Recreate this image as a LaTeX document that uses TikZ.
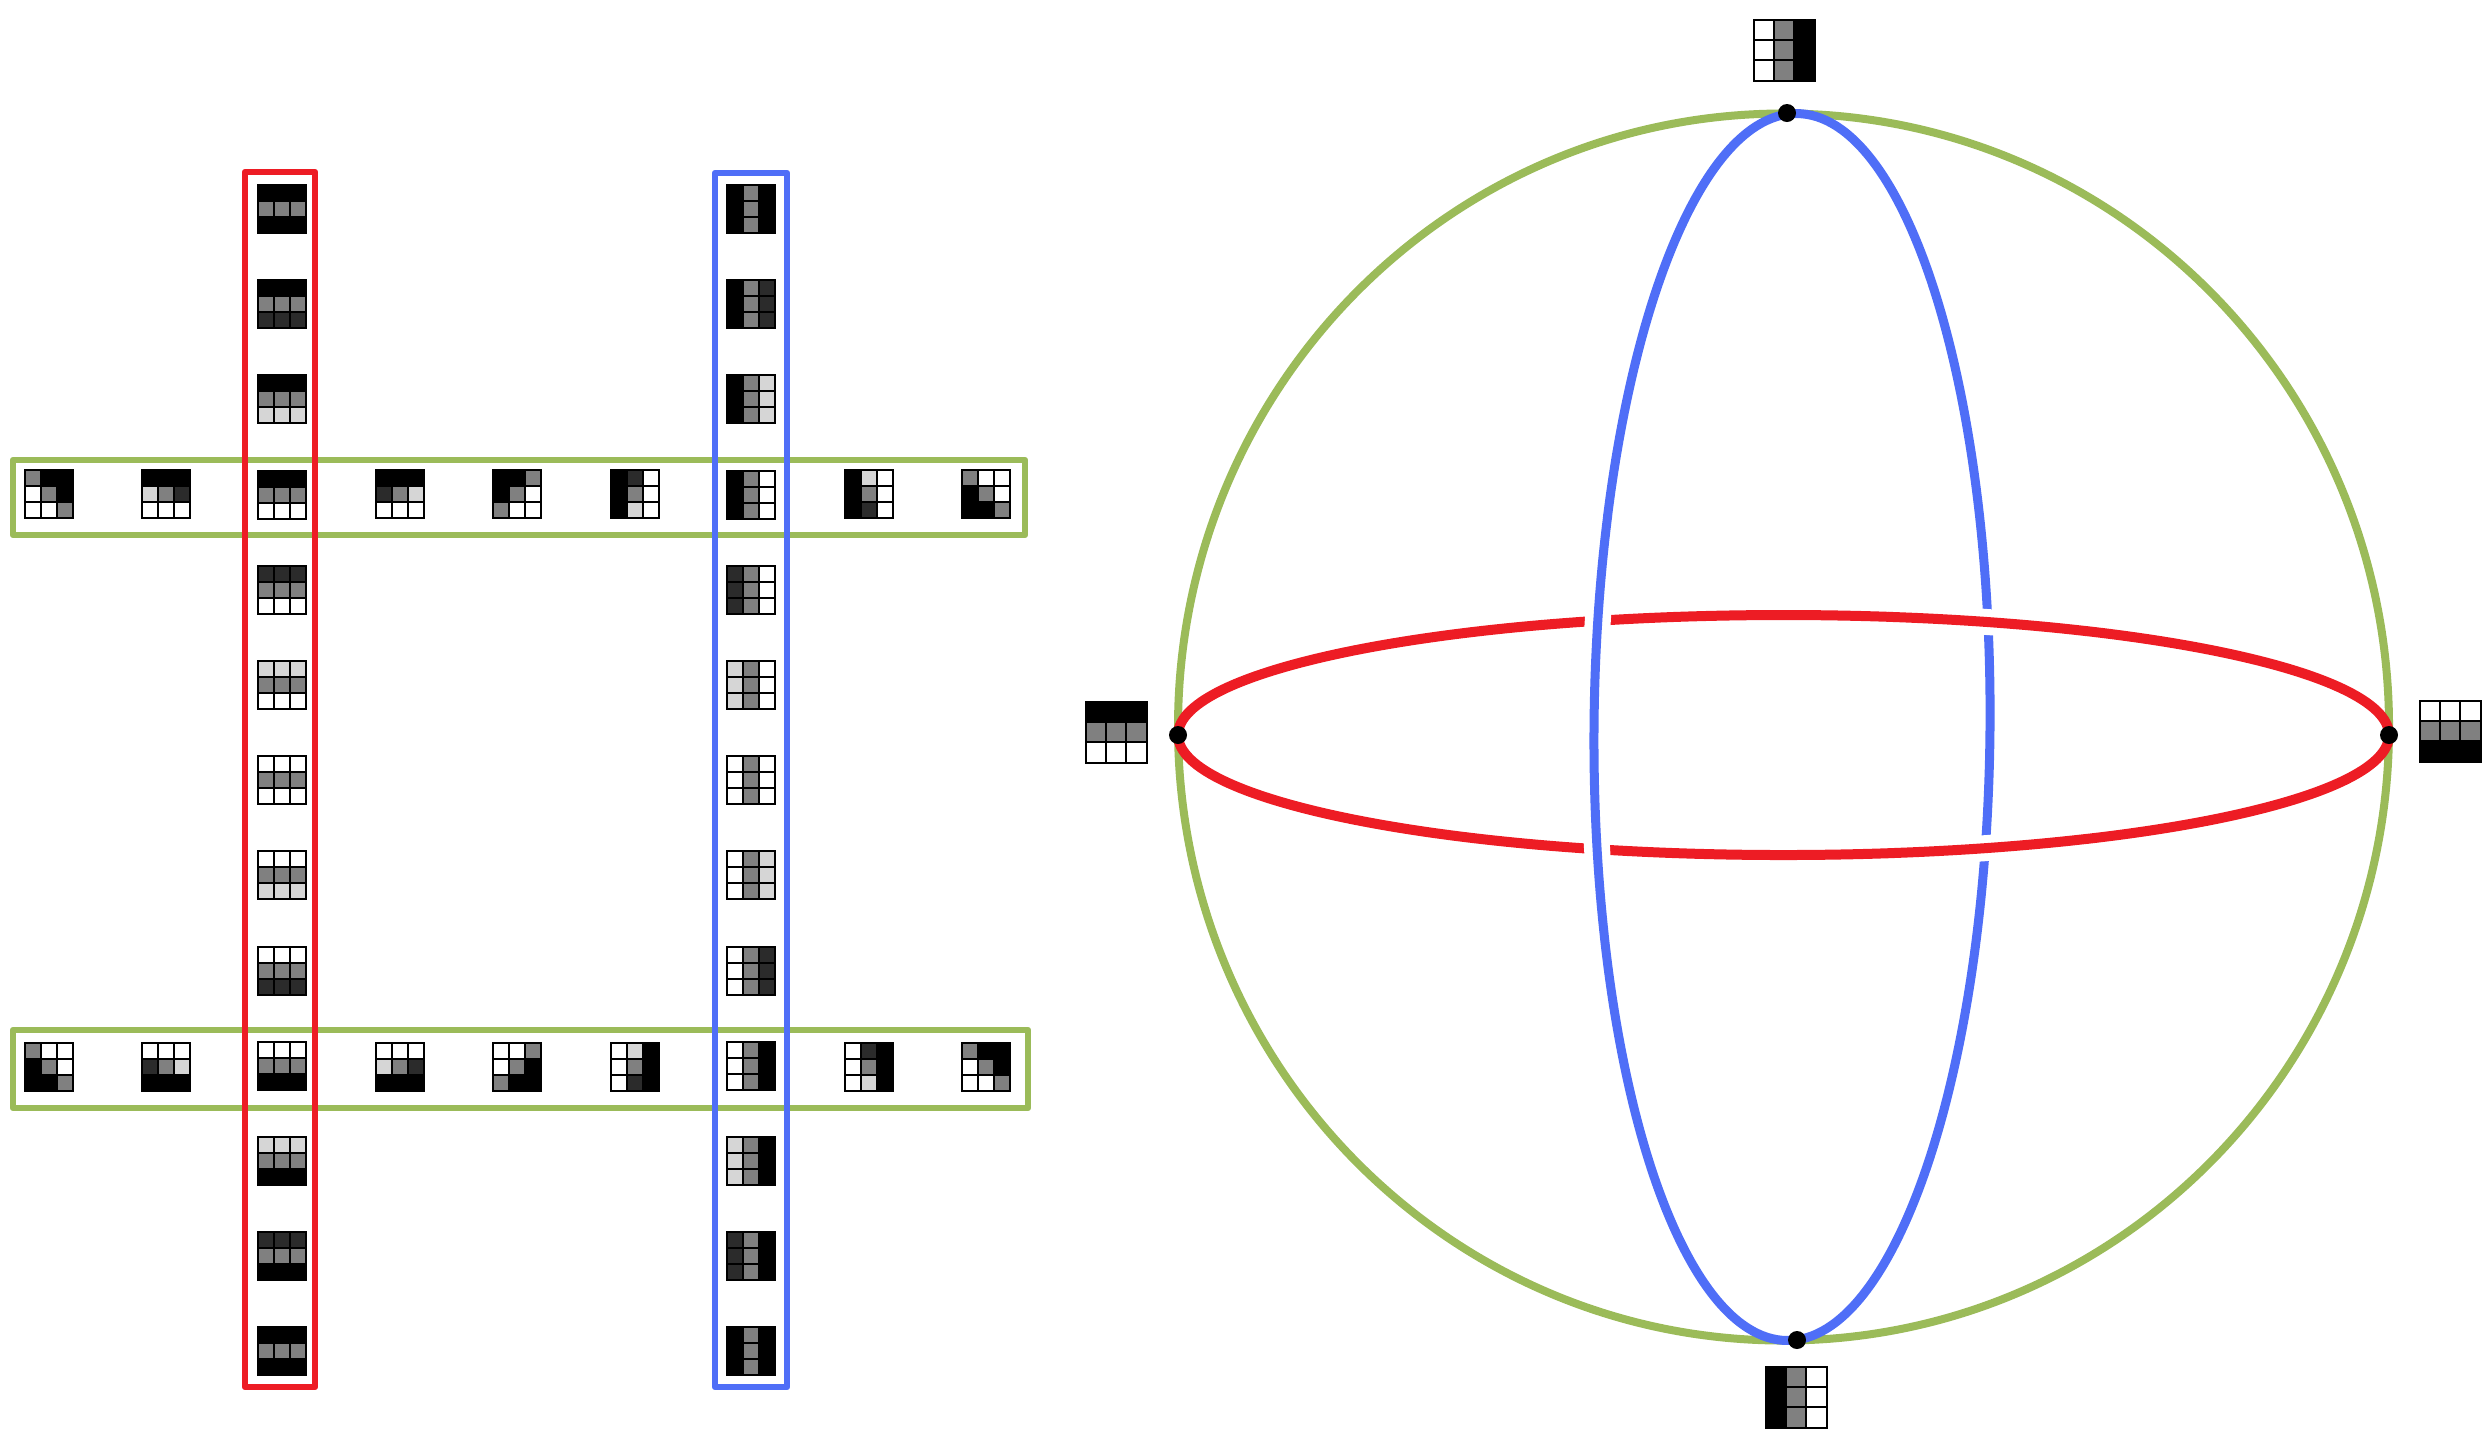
\documentclass[tikz,border=0pt]{standalone}
\definecolor{rdline}{rgb}{0.929,0.110,0.141}
\definecolor{blline}{rgb}{0.310,0.431,0.969}
\definecolor{grline}{rgb}{0.608,0.733,0.349}
\definecolor{qq}{gray}{0}
\definecolor{sq}{gray}{0.17}
\definecolor{md}{gray}{0.5}
\definecolor{dc}{gray}{0.84}
\definecolor{ff}{gray}{1}
\tikzset{patchline/.style={line width=0.2mm,line cap=rect}}
\newcommand{\patch}[4][48]{%
  \foreach \v [count=\i from 0] in {#4} {
    \pgfmathsetmacro\px{#2-#1/2+#1/3*mod(\i,3)}
    \pgfmathsetmacro\py{#3-#1/2+#1/3*int(\i/3)}
    \fill[fill=\v] (\px,\py) rectangle ++(#1/3,#1/3);
  }
  \foreach \j in {0,1,2,3} {
    \draw[patchline] (#2-#1/2+#1/3*\j,#3-#1/2) -- ++(0,#1);
    \draw[patchline] (#2-#1/2,#3-#1/2+#1/3*\j) -- ++(#1,0);
  }
}
\begin{document}
\begin{tikzpicture}[x=0.1mm,y=-0.1mm,line cap=round,line join=round,
  frame/.style={line width=0.65mm},
  gap/.style={preaction={draw=white,line width=2.6mm,line cap=butt}}]
  \useasboundingbox (0,0) rectangle (2487,1435);
  \draw[frame,color=grline] (13,460) rectangle (1025,535);
  \draw[frame,color=grline] (13,1030) rectangle (1028,1108);
  \draw[frame,color=rdline] (245,172) rectangle (315,1387);
  \draw[frame,color=blline] (715,173) rectangle (787,1387);
  \foreach \hi/\lo [count=\k from 0] in {qq/qq,qq/sq,qq/dc,qq/ff,sq/ff,dc/ff,ff/ff,ff/dc,ff/sq,ff/qq,dc/qq,sq/qq,qq/qq} {
    \patch{282}{209+95.2*\k}{\hi,\hi,\hi,md,md,md,\lo,\lo,\lo}
    \patch{751}{209+95.2*\k}{\hi,md,\lo,\hi,md,\lo,\hi,md,\lo}
  }
  \patch{49}{494}{md,qq,qq,ff,md,qq,ff,ff,md}
  \patch{166}{494}{qq,qq,qq,dc,md,sq,ff,ff,ff}
  \patch{400}{494}{qq,qq,qq,sq,md,dc,ff,ff,ff}
  \patch{517}{494}{qq,qq,md,qq,md,ff,md,ff,ff}
  \patch{635}{494}{qq,sq,ff,qq,md,ff,qq,dc,ff}
  \patch{869}{494}{qq,dc,ff,qq,md,ff,qq,sq,ff}
  \patch{986}{494}{md,ff,ff,qq,md,ff,qq,qq,md}
  \patch{49}{1067}{md,ff,ff,qq,md,ff,qq,qq,md}
  \patch{166}{1067}{ff,ff,ff,sq,md,dc,qq,qq,qq}
  \patch{400}{1067}{ff,ff,ff,dc,md,sq,qq,qq,qq}
  \patch{517}{1067}{ff,ff,md,ff,md,qq,md,qq,qq}
  \patch{635}{1067}{ff,dc,qq,ff,md,qq,ff,sq,qq}
  \patch{869}{1067}{ff,sq,qq,ff,md,qq,ff,dc,qq}
  \patch{986}{1067}{md,qq,qq,ff,md,qq,ff,ff,md}
  \draw[line width=0.8mm,color=grline] (1783.5,727) ellipse [x radius=605.5,y radius=613.5];
  \draw[line width=1.0mm,color=rdline] (1783.5,735) ellipse [x radius=605.5,y radius=120];
  \begin{scope}[shift={(1792,727)},rotate=-0.47]
    \draw[line width=0.9mm,color=blline] (0,0) ellipse [x radius=198,y radius=613.5];
    \draw[line width=0.9mm,color=blline,gap] (160:198 and 613.5) arc [start angle=160,end angle=200,x radius=198,y radius=613.5];
  \end{scope}
  \draw[line width=1.0mm,color=rdline,gap] (1783.5,735) ++(-80:605.5 and 120) arc [start angle=-80,end angle=-60,x radius=605.5,y radius=120];
  \draw[line width=1.0mm,color=rdline,gap] (1783.5,735) ++(60:605.5 and 120) arc [start angle=60,end angle=80,x radius=605.5,y radius=120];
  \fill (1787,113) circle (9);
  \fill (1797,1340) circle (9);
  \fill (1178,735) circle (9);
  \fill (2389,735) circle (9);
  \patch[61]{1784}{50}{ff,md,qq,ff,md,qq,ff,md,qq}
  \patch[61]{1796}{1397}{qq,md,ff,qq,md,ff,qq,md,ff}
  \patch[61]{1116}{732}{qq,qq,qq,md,md,md,ff,ff,ff}
  \patch[61]{2450}{731}{ff,ff,ff,md,md,md,qq,qq,qq}
\end{tikzpicture}
\end{document}
